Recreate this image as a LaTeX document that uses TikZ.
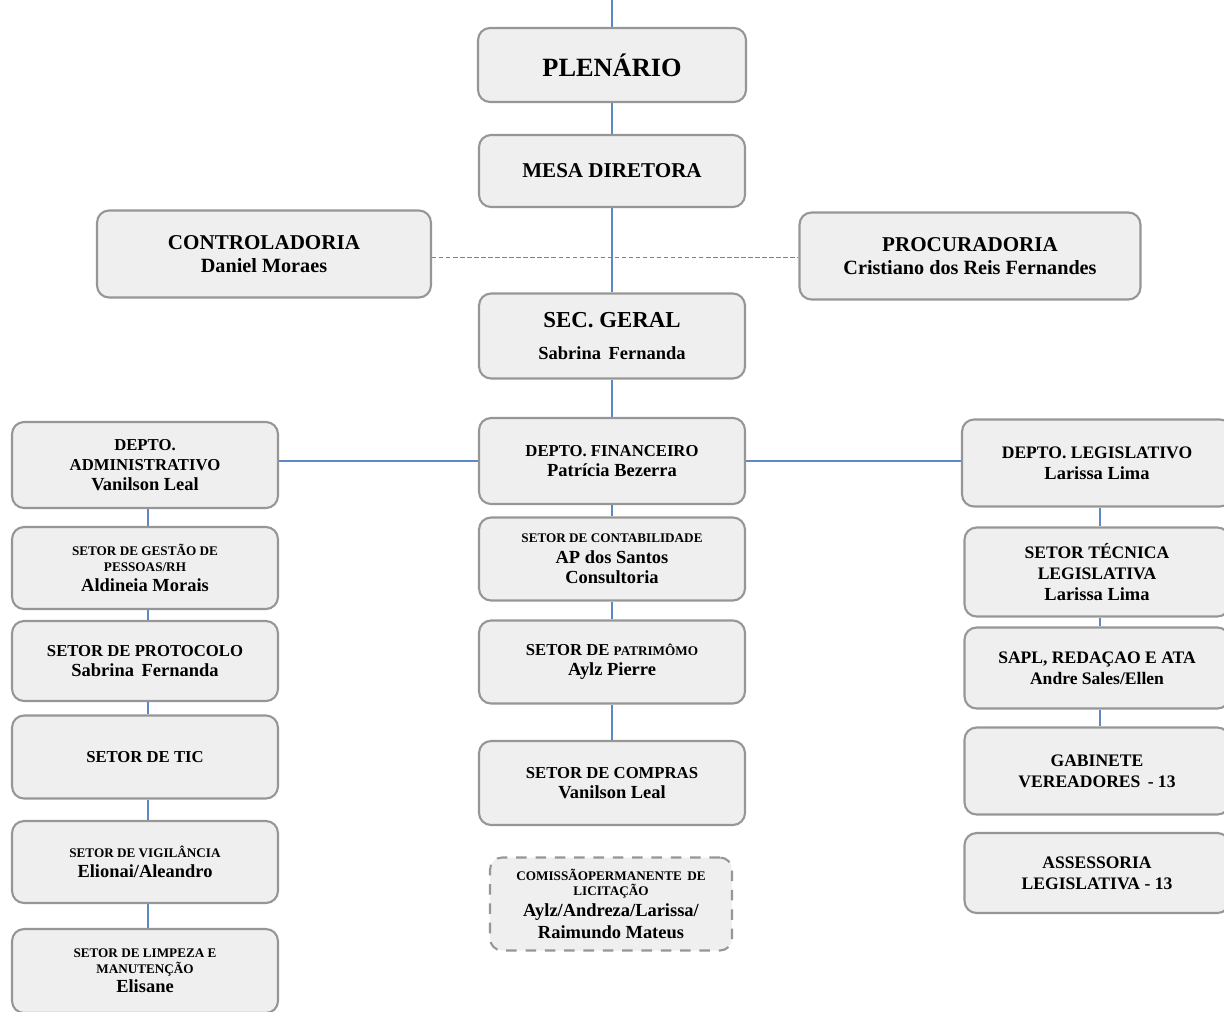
\documentclass[tikz,border=0pt]{standalone}
\usepackage{fontspec}
\setmainfont{Liberation Serif}
\usetikzlibrary{positioning}

\definecolor{boxfill}{RGB}{239,239,239}
\definecolor{boxline}{RGB}{150,150,150}
\definecolor{linkblue}{RGB}{92,137,196}

\newcommand{\bigtxt}{\fontsize{15}{18}\selectfont}
\newcommand{\midtxt}{\fontsize{12}{14}\selectfont}
\newcommand{\hdtxt}{\fontsize{9.5}{11.5}\selectfont}
\newcommand{\nmtxt}{\fontsize{10.5}{12}\selectfont}
\newcommand{\smtxt}{\fontsize{7.5}{8.8}\selectfont}

\begin{document}
\begin{tikzpicture}[x=0.02cm, y=-0.02cm, font=\bfseries]
\useasboundingbox (0,0) rectangle (1224,1011);
\clip (0,0) rectangle (1224,1011);

    \tikzstyle{unit}=[draw=boxline, fill=boxfill, line width=1.2pt, rounded corners=0.24cm,
                      align=center, inner sep=2pt, minimum width=5.32cm];
    \tikzstyle{comis}=[unit, dash pattern=on 6pt off 5pt, minimum width=4.84cm];
    \tikzstyle{link}=[draw=linkblue, line width=0.7pt];

% top of the chart
\coordinate (top) at (612,0);
\node[unit, minimum width=5.36cm, minimum height=1.48cm, font=\bfseries\bigtxt] (plen) at (612,65) {PLENÁRIO};
\node[unit, minimum height=1.44cm, font=\bfseries\midtxt] (mesa) at (612,171) {MESA DIRETORA};
\node[unit, minimum width=6.68cm, minimum height=1.74cm, font=\bfseries\midtxt] (contr) at (264,254)
      {CONTROLADORIA\\[-1pt]{\fontsize{11.5}{13}\selectfont Daniel Moraes}};
\node[unit, minimum width=6.82cm, minimum height=1.74cm, font=\bfseries\midtxt] (procur) at (970,256)
      {PROCURADORIA\\[-1pt]{\fontsize{11.5}{13}\selectfont Cristiano dos Reis Fernandes}};
\node[unit, minimum height=1.70cm, font=\bfseries\fontsize{13}{15}\selectfont] (sec) at (612,336)
      {SEC. GERAL\\[3pt]{\nmtxt Sabrina\, Fernanda}};

% centre column
\node[unit, minimum height=1.72cm, font=\bfseries\hdtxt] (fin) at (612,461)
      {DEPTO. FINANCEIRO\\{\nmtxt Patrícia Bezerra}};
\node[unit, minimum height=1.66cm, font=\bfseries\smtxt] (contab) at (612,559)
      {SETOR DE CONTABILIDADE\\[3pt]{\nmtxt AP dos Santos}\\[3pt]{\nmtxt Consultoria}};
\node[unit, minimum height=1.66cm, font=\bfseries\hdtxt] (patr) at (612,662)
      {SETOR DE {\fontsize{7.5}{9}\selectfont PATRIMÔMO}\\{\nmtxt Aylz Pierre}};
\node[unit, minimum height=1.68cm, font=\bfseries\hdtxt] (compras) at (612,783)
      {SETOR DE COMPRAS\\{\nmtxt Vanilson Leal}};
\node[comis, minimum height=1.86cm, font=\bfseries\smtxt] (lic) at (611,904)
      {COMISSÃOPERMANENTE\, DE\\LICITAÇÃO\\[2pt]{\nmtxt Aylz/Andreza/Larissa/}\\[2pt]{\nmtxt Raimundo Mateus}};

% left column
\node[unit, minimum height=1.72cm, font=\bfseries\hdtxt] (adm) at (145,465)
      {DEPTO.\\ADMINISTRATIVO\\{\nmtxt Vanilson Leal}};
\node[unit, minimum height=1.64cm, font=\bfseries\smtxt] (gest) at (145,568)
      {SETOR DE GESTÃO DE\\PESSOAS/RH\\[2.5pt]{\nmtxt Aldineia Morais}};
\node[unit, minimum height=1.60cm, font=\bfseries\hdtxt] (prot) at (145,661)
      {SETOR DE PROTOCOLO\\{\nmtxt Sabrina\, Fernanda}};
\node[unit, minimum height=1.66cm, font=\bfseries\hdtxt] (tic) at (145,757)
      {SETOR DE TIC};
\node[unit, minimum height=1.64cm, font=\bfseries\smtxt] (vig) at (145,862)
      {SETOR DE VIGILÂNCIA\\[2.5pt]{\nmtxt Elionai/Aleandro}};
\node[unit, minimum height=1.68cm, font=\bfseries\smtxt] (limp) at (145,971)
      {SETOR DE LIMPEZA E\\MANUTENÇÃO\\[1.5pt]{\nmtxt Elisane}};

% right column
\node[unit, minimum width=5.4cm, minimum height=1.74cm, font=\bfseries\fontsize{10}{12}\selectfont] (legis) at (1097,463)
      {DEPTO. LEGISLATIVO\\{\nmtxt Larissa Lima}};
\node[unit, minimum width=5.3cm, minimum height=1.78cm, font=\bfseries\fontsize{10}{12}\selectfont] (tec) at (1097,572)
      {SETOR TÉCNICA\\LEGISLATIVA\\{\nmtxt Larissa Lima}};
\node[unit, minimum width=5.3cm, minimum height=1.62cm, font=\bfseries\fontsize{10}{12}\selectfont] (sapl) at (1097,668)
      {SAPL, REDAÇAO E ATA\\Andre Sales/Ellen};
\node[unit, minimum width=5.3cm, minimum height=1.74cm, font=\bfseries\fontsize{10}{12}\selectfont] (gab) at (1097,771)
      {GABINETE\\VEREADORES\, - 13};
\node[unit, minimum width=5.3cm, minimum height=1.60cm, font=\bfseries\fontsize{10}{12}\selectfont] (assess) at (1097,873)
      {ASSESSORIA\\LEGISLATIVA - 13};

% links
\draw[link] (top) -- (plen);
\draw[link] (plen) -- (mesa);
\draw[link] (mesa) -- (sec);
\draw[link, line width=0.9pt, dash pattern=on 2.5pt off 1.5pt] ([yshift=-2pt] contr.east) -- ([yshift=-2pt] contr.east -| procur.west);
\draw[link] (sec) -- (fin);
\draw[link] (fin.west -| adm.east) -- (fin.west);
\draw[link] (fin.east) -- (fin.east -| legis.west);
\foreach \a/\b in {fin/contab, contab/patr, patr/compras}
    \draw[link] (\a) -- (\b);
\foreach \a/\b in {adm/gest, gest/prot, prot/tic, tic/vig, vig/limp}
    \draw[link] ([xshift=1.7pt] \a.south) -- ([xshift=1.7pt] \b.north);
\foreach \a/\b in {legis/tec, tec/sapl, sapl/gab}
    \draw[link] ([xshift=1.7pt] \a.south) -- ([xshift=1.7pt] \b.north);
\end{tikzpicture}
\end{document}
